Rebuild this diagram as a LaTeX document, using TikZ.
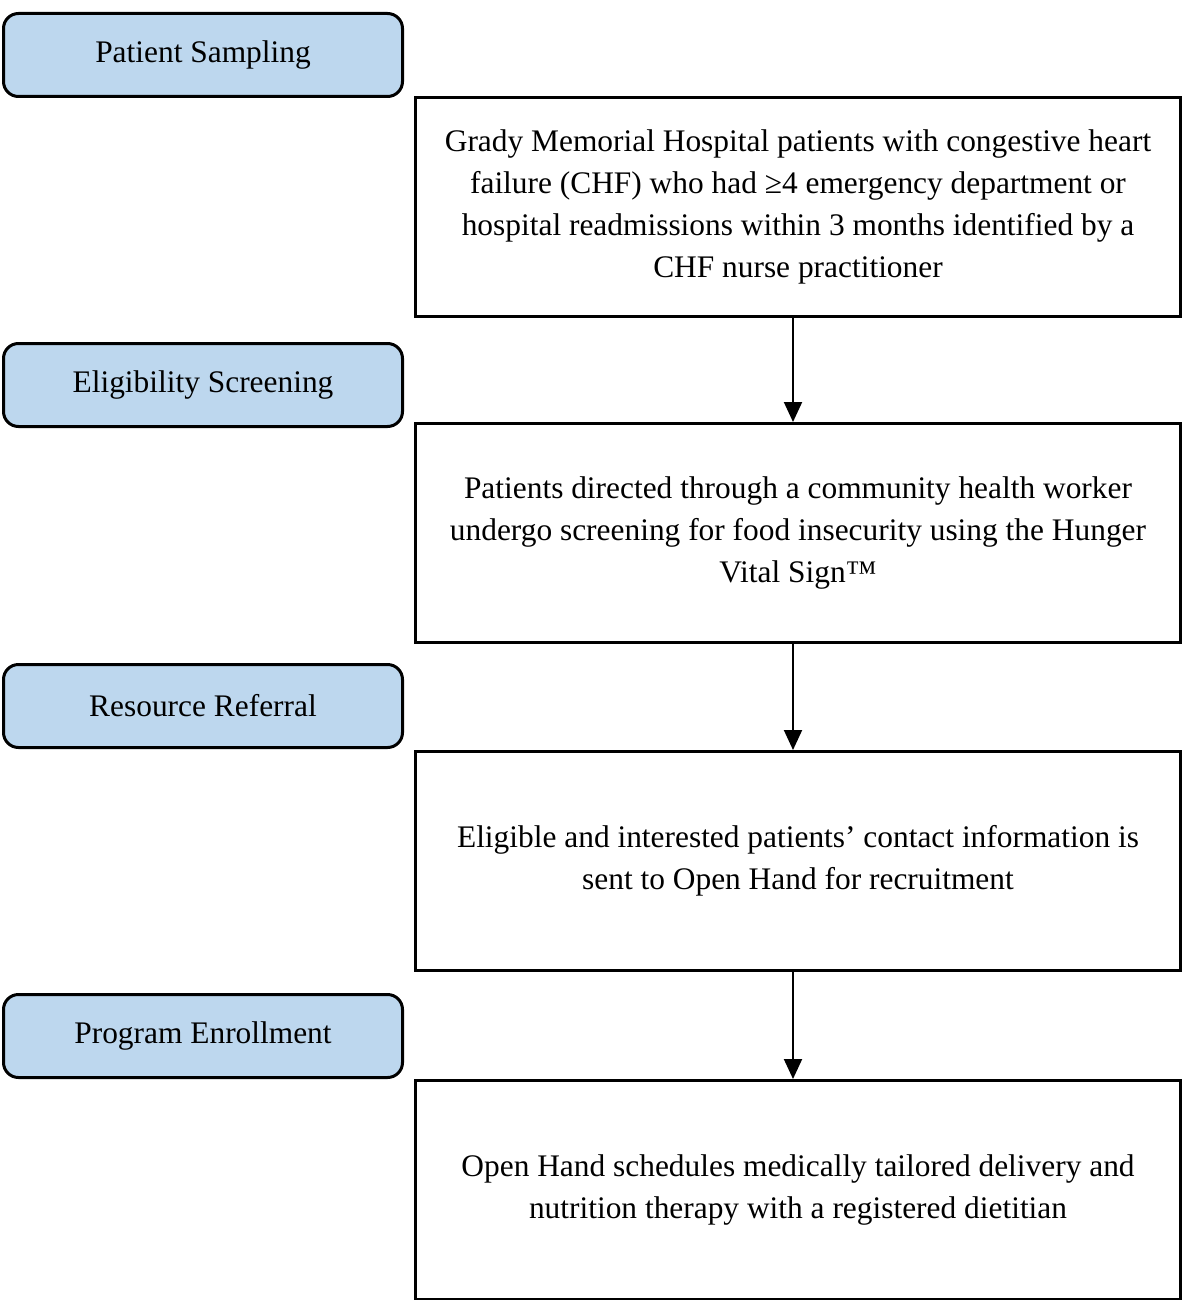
\documentclass[tikz,border=0pt]{standalone}
\usepackage{fontspec}
\setmainfont{Liberation Serif}
\usetikzlibrary{arrows.meta}
\definecolor{stageblue}{HTML}{BDD7EE}
\begin{document}
\begin{tikzpicture}[x=1pt,y=-1pt,
  stage/.style={draw=black, line width=3pt, fill=stageblue, rounded corners=15pt,
    minimum width=399pt, minimum height=83pt, inner sep=0pt, anchor=north west,
    font=\fontsize{31.4}{42}\selectfont},
  stepbox/.style={draw=black, line width=3pt, fill=white,
    minimum width=765pt, minimum height=219pt, inner sep=0pt, anchor=north west,
    align=center, font=\fontsize{31.4}{42}\selectfont},
  flow/.style={line width=2pt, -{Triangle[width=18pt,length=20pt]}}]
\useasboundingbox (0,0) rectangle (1184,1300);
\node[stage] (s1) at (2,12) {Patient Sampling};
\node[stage] (s2) at (2,342) {Eligibility Screening};
\node[stage] (s3) at (2,663) {Resource Referral};
\node[stage] (s4) at (2,993) {Program Enrollment};
\node[stepbox] (b1) at (414,96) {Grady Memorial Hospital patients with congestive heart\\failure (CHF) who had ≥4 emergency department or\\hospital readmissions within 3 months identified by a\\CHF nurse practitioner};
\node[stepbox] (b2) at (414,422) {Patients directed through a community health worker\\undergo screening for food insecurity using the Hunger\\Vital Sign™};
\node[stepbox] (b3) at (414,750) {Eligible and interested patients’ contact information is\\sent to Open Hand for recruitment};
\node[stepbox] (b4) at (414,1079) {Open Hand schedules medically tailored delivery and\\nutrition therapy with a registered dietitian};
\draw[flow] (b1.south -| 793,0) -- (b2.north -| 793,0);
\draw[flow] (b2.south -| 793,0) -- (b3.north -| 793,0);
\draw[flow] (b3.south -| 793,0) -- (b4.north -| 793,0);
\end{tikzpicture}
\end{document}
